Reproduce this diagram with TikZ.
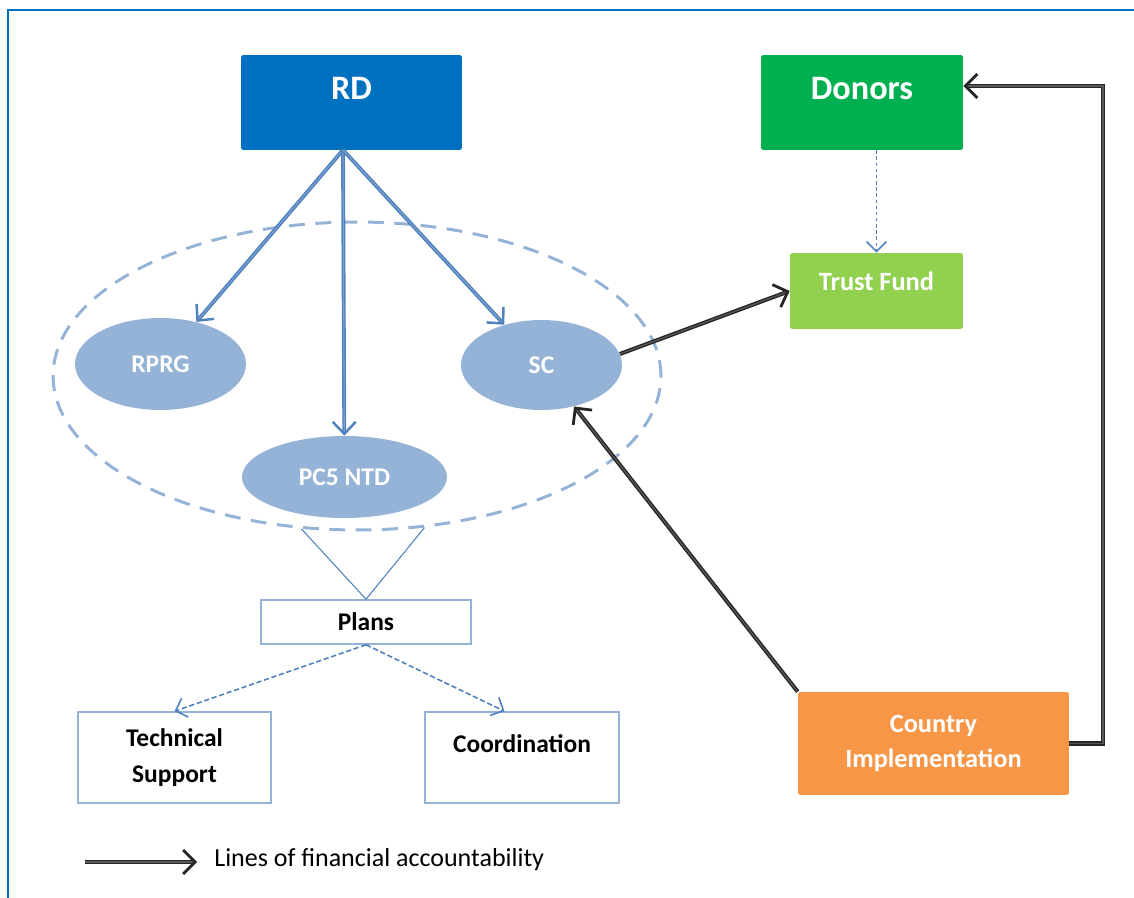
\documentclass[tikz,border=0pt]{standalone}
\usepackage{fontspec}
\setmainfont{Carlito}
\usetikzlibrary{positioning}
\usetikzlibrary{shapes.geometric}
\usetikzlibrary{arrows.meta}
\definecolor{rdblue}{HTML}{0070C0}
\definecolor{donorgreen}{HTML}{00B050}
\definecolor{fundgreen}{HTML}{92D050}
\definecolor{ciorange}{HTML}{F79646}
\definecolor{ovalblue}{HTML}{95B3D7}
\definecolor{linkblue}{HTML}{4F81BD}
\tikzset{
   head/.style = {%
    shape=rectangle,
    rounded corners=1pt,
    inner sep=0pt,
    text=white,
    align=center,
    font=\fontsize{19.5}{22}\selectfont\bfseries},
   oval/.style = {%
    shape=ellipse,
    fill=ovalblue,
    inner sep=0pt,
    text=white,
    font=\fontsize{14.5}{17}\selectfont\bfseries},
   plain/.style = {%
    shape=rectangle,
    draw=ovalblue,
    line width=0.9pt,
    inner sep=0pt,
    align=center,
    font=\fontsize{14.5}{20}\selectfont\bfseries},
   link/.style = {%
    draw=linkblue,
    double=linkblue!75,
    double distance=0.6pt,
    line width=0.8pt,
    -{Straight Barb[length=2.4mm,width=4.6mm,line width=1.4pt]}},
   fin/.style = {%
    draw=black!85,
    double=black!65,
    double distance=0.7pt,
    line width=0.8pt,
    -{Straight Barb[length=2.4mm,width=4.8mm,line width=1.6pt]}},
   sub/.style = {%
    draw=linkblue,
    line width=0.9pt,
    dash pattern=on 3pt off 1.5pt,
    -{Straight Barb[length=2mm,width=4mm,line width=0.9pt]}},
}
\begin{document}
\begin{tikzpicture}[x=0.02cm, y=-0.02cm]
  \useasboundingbox (0,0) rectangle (1134,898);
  \draw[rdblue, line width=1.2pt] (8,898) -- (8,10) -- (1134,10);

  % top boxes
  \node[head, fill=rdblue, minimum width=4.42cm, minimum height=1.9cm,
        text height=0.9cm, text depth=1.0cm] (rd) at (351.5,102.5) {RD};
  \node[head, fill=donorgreen, minimum width=4.04cm, minimum height=1.9cm,
        text height=0.9cm, text depth=1.0cm] (donors) at (862,102.5) {Donors};
  \node[head, fill=fundgreen, minimum width=3.46cm, minimum height=1.52cm,
        text height=0.76cm, text depth=0.76cm,
        font=\fontsize{15}{17}\selectfont\bfseries] (tf) at (876.5,291) {Trust Fund};
  \node[head, fill=ciorange, minimum width=5.42cm, minimum height=2.06cm,
        font=\fontsize{15}{20}\selectfont\bfseries] (ci) at (933.5,743.5)
        {Country\\Implementation};

  % the group and its members
  \node[shape=ellipse, draw=ovalblue, line width=1.7pt,
        dash pattern=on 9pt off 6pt, minimum width=12.16cm,
        minimum height=6.16cm] (grp) at (357,376) {};
  \node[oval, minimum width=3.42cm, minimum height=1.84cm] (rprg) at (160.5,364) {RPRG};
  \node[oval, minimum width=3.22cm, minimum height=1.8cm] (sc) at (541.5,365) {SC};
  \node[oval, minimum width=4.1cm, minimum height=1.64cm] (pc) at (344.5,477) {PC5 NTD};

  % plans and below
  \node[plain, minimum width=4.2cm, minimum height=0.88cm] (plans) at (366,622) {Plans};
  \node[plain, minimum width=3.86cm, minimum height=1.82cm] (ts) at (174.5,757.5)
        {Technical\\Support};
  \node[plain, minimum width=3.88cm, minimum height=1.82cm,
        text height=0.82cm, text depth=1.0cm] (co) at (522,757.5) {Coordination};

  % blue lines
  \coordinate (rdfoot) at (343,150);
  \draw[link] (rdfoot) -- (rprg);
  \draw[link] (rdfoot) -- (pc);
  \draw[link] (rdfoot) -- (sc);
  \draw[linkblue, line width=0.6pt] (grp.250) -- (plans.north) -- (grp.294);
  \draw[sub] (plans.south) -- (ts.north);
  \draw[sub] (plans.south) -- ([xshift=-0.35cm]co.north);
  \draw[sub, dash pattern=on 2pt off 1.5pt] (tf.north |- donors.south) -- (tf.north);

  % financial lines
  \draw[fin] (sc.8) -- (tf.west);
  \draw[fin] (ci.north west) -- (sc);
  \coordinate (ret) at (1103,86);
  \draw[fin] (ci.east) -| (ret) -- (donors.east |- ret);

  % legend
  \coordinate (lg) at (85,862);
  \node[anchor=west, inner sep=0pt, font=\fontsize{14.8}{17}\selectfont]
        (legtxt) at (214,860) {Lines of financial accountability};
  \draw[fin, shorten >=0.34cm] (lg) -- (legtxt.west |- lg);
\end{tikzpicture}
\end{document}
